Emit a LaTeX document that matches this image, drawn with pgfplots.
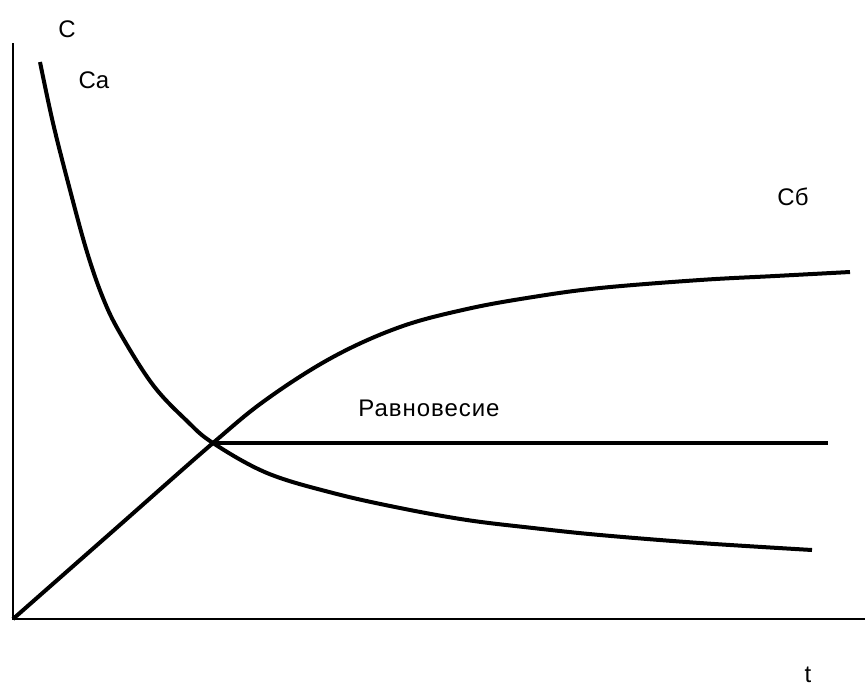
\documentclass[border=0pt]{standalone}
\usepackage{pgfplots}
\pgfplotsset{compat=1.18}
\usepackage{fontspec}
\setmainfont{Liberation Sans}
\newfontfamily\labelfont[LetterSpace=4]{Liberation Sans}

\begin{document}
\begin{tikzpicture}
\begin{axis}[
  name=ax,
  scale only axis,
  width=865pt, height=686pt,
  xmin=0, xmax=865, ymin=0, ymax=686,
  y dir=reverse,
  hide axis,
  clip=false,
  every axis plot/.append style={no markers},
]
% coordinate axes
\addplot[black, line width=1.2pt] coordinates {(13,43) (13,619) (865,619)};

% reactant concentration C_a
\addplot[black, line width=4pt, smooth, tension=0.6] coordinates {
  (40,62) (53,123) (70,190) (87,252) (103,298) (120,333)
  (153,385) (187,421) (213,443) (267,473) (333,493) (400,508)
  (467,520) (533,528) (600,535) (700,543) (812,550)
};

% product concentration C_b
\addplot[black, line width=4pt, smooth, tension=0.6] coordinates {
  (13,619) (113,531) (213,443) (267,399) (333,357)
  (400,327) (467,309) (533,297) (600,288)
  (700,280) (775,276) (850,272)
};

% equilibrium level
\addplot[black, line width=4pt] coordinates {(213,443) (828,443)};

\node[font=\fontsize{24}{28}\selectfont] at (axis cs:67,29) {C};
\node[font=\fontsize{24}{28}\selectfont] at (axis cs:94,80) {Ca};
\node[font=\fontsize{24}{28}\selectfont] at (axis cs:793,197) {Сб};
\node[font=\fontsize{24}{28}\selectfont\labelfont] at (axis cs:429,408) {Равновесие};
\node[font=\fontsize{24}{28}\selectfont] at (axis cs:808,675) {t};
\end{axis}
\pgfresetboundingbox
\path (ax.south west) rectangle (ax.north east);
\end{tikzpicture}
\end{document}
